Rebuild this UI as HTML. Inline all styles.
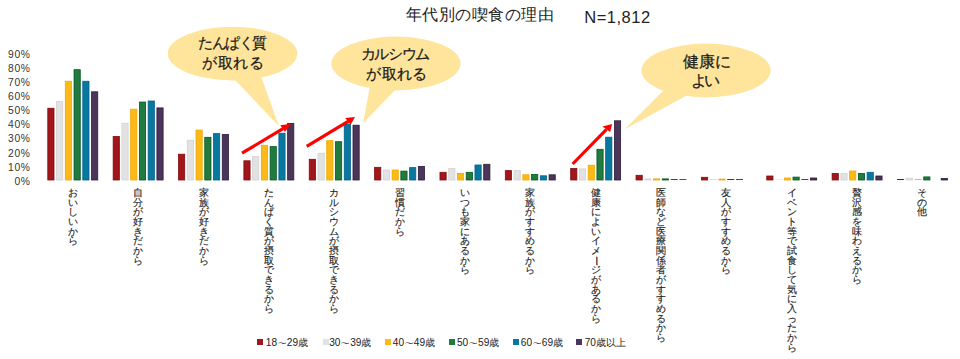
<!DOCTYPE html>
<html lang="ja"><head><meta charset="utf-8"><style>
html,body{margin:0;padding:0;background:#fff;}
body{width:960px;height:359px;position:relative;overflow:hidden;font-family:"Liberation Sans",sans-serif;color:#222;}
.yl{position:absolute;right:929.3px;font-size:10.3px;letter-spacing:0.7px;line-height:12px;color:#333;white-space:nowrap;}
.cat{position:absolute;top:188px;width:12px;text-align:center;font-size:9.6px;line-height:9.65px;color:#1e1e1e;-webkit-text-stroke:0.15px #1e1e1e;white-space:nowrap;}
.rot{display:inline-block;transform:rotate(90deg);}
.lsq{position:absolute;top:339px;width:6px;height:6px;}
.wv{display:inline-block;line-height:0;transform:scaleX(1.3);margin:0 0.9px;}
.ltx{position:absolute;top:337.4px;font-size:10.1px;line-height:12px;color:#222;white-space:nowrap;}
svg{position:absolute;left:0;top:0;}
.tx{position:absolute;z-index:2;line-height:40px;white-space:nowrap;color:#222;}
.co{color:#1a1a1a;-webkit-text-stroke:0.25px #1a1a1a;}
</style></head><body>
<div class="tx" style="left:405.5px;top:-5.72px;font-size:16.3px;letter-spacing:0.5px">年代別の喫食の理由</div><div class="tx" style="left:584.2px;top:-2.88px;font-size:16.5px;letter-spacing:0.53px">N=1,812</div><div class="tx co" style="left:198.0px;top:23.05px;font-size:15px;letter-spacing:-1.47px">たんぱく質</div><div class="tx co" style="left:202.3px;top:42.95px;font-size:15px;letter-spacing:0.43px">が取れる</div><div class="tx co" style="left:360.9px;top:33.55px;font-size:15px;letter-spacing:-1.45px">カルシウム</div><div class="tx co" style="left:366.2px;top:54.05px;font-size:15px;letter-spacing:0.43px">が取れる</div><div class="tx co" style="left:682.8px;top:41.5px;font-size:15.5px;letter-spacing:0.15px">健康に</div><div class="tx co" style="left:690.8px;top:60.75px;font-size:15.5px;letter-spacing:-2.3px">よい</div>
<div class="yl" style="top:175.70px">0%</div><div class="yl" style="top:161.61px">10%</div><div class="yl" style="top:147.52px">20%</div><div class="yl" style="top:133.43px">30%</div><div class="yl" style="top:119.34px">40%</div><div class="yl" style="top:105.25px">50%</div><div class="yl" style="top:91.16px">60%</div><div class="yl" style="top:77.07px">70%</div><div class="yl" style="top:62.98px">80%</div><div class="yl" style="top:48.89px">90%</div>
<svg width="960" height="359" viewBox="0 0 960 359">
<rect x="47.80" y="108.25" width="6.20" height="71.75" fill="#A0161A" stroke="#850A0E" stroke-width="0.8"/><rect x="56.55" y="101.60" width="6.20" height="78.40" fill="#E2E2E2" stroke="#D2D2D2" stroke-width="0.8"/><rect x="65.30" y="81.25" width="6.20" height="98.75" fill="#FDB918" stroke="#F0A800" stroke-width="0.8"/><rect x="74.05" y="69.70" width="6.20" height="110.30" fill="#217A3F" stroke="#005A1E" stroke-width="0.8"/><rect x="82.80" y="81.25" width="6.20" height="98.75" fill="#0878A0" stroke="#00608A" stroke-width="0.8"/><rect x="91.55" y="91.80" width="6.20" height="88.20" fill="#4B3558" stroke="#2E1B3C" stroke-width="0.8"/><rect x="113.16" y="136.50" width="6.20" height="43.50" fill="#A0161A" stroke="#850A0E" stroke-width="0.8"/><rect x="121.91" y="123.20" width="6.20" height="56.80" fill="#E2E2E2" stroke="#D2D2D2" stroke-width="0.8"/><rect x="130.66" y="109.20" width="6.20" height="70.80" fill="#FDB918" stroke="#F0A800" stroke-width="0.8"/><rect x="139.41" y="102.05" width="6.20" height="77.95" fill="#217A3F" stroke="#005A1E" stroke-width="0.8"/><rect x="148.16" y="101.00" width="6.20" height="79.00" fill="#0878A0" stroke="#00608A" stroke-width="0.8"/><rect x="156.91" y="107.90" width="6.20" height="72.10" fill="#4B3558" stroke="#2E1B3C" stroke-width="0.8"/><rect x="178.52" y="154.20" width="6.20" height="25.80" fill="#A0161A" stroke="#850A0E" stroke-width="0.8"/><rect x="187.27" y="140.20" width="6.20" height="39.80" fill="#E2E2E2" stroke="#D2D2D2" stroke-width="0.8"/><rect x="196.02" y="130.10" width="6.20" height="49.90" fill="#FDB918" stroke="#F0A800" stroke-width="0.8"/><rect x="204.77" y="137.30" width="6.20" height="42.70" fill="#217A3F" stroke="#005A1E" stroke-width="0.8"/><rect x="213.52" y="133.60" width="6.20" height="46.40" fill="#0878A0" stroke="#00608A" stroke-width="0.8"/><rect x="222.27" y="134.40" width="6.20" height="45.60" fill="#4B3558" stroke="#2E1B3C" stroke-width="0.8"/><rect x="243.88" y="160.80" width="6.20" height="19.20" fill="#A0161A" stroke="#850A0E" stroke-width="0.8"/><rect x="252.63" y="156.40" width="6.20" height="23.60" fill="#E2E2E2" stroke="#D2D2D2" stroke-width="0.8"/><rect x="261.38" y="145.30" width="6.20" height="34.70" fill="#FDB918" stroke="#F0A800" stroke-width="0.8"/><rect x="270.13" y="146.60" width="6.20" height="33.40" fill="#217A3F" stroke="#005A1E" stroke-width="0.8"/><rect x="278.88" y="133.20" width="6.20" height="46.80" fill="#0878A0" stroke="#00608A" stroke-width="0.8"/><rect x="287.63" y="123.40" width="6.20" height="56.60" fill="#4B3558" stroke="#2E1B3C" stroke-width="0.8"/><rect x="309.24" y="159.30" width="6.20" height="20.70" fill="#A0161A" stroke="#850A0E" stroke-width="0.8"/><rect x="317.99" y="153.20" width="6.20" height="26.80" fill="#E2E2E2" stroke="#D2D2D2" stroke-width="0.8"/><rect x="326.74" y="140.70" width="6.20" height="39.30" fill="#FDB918" stroke="#F0A800" stroke-width="0.8"/><rect x="335.49" y="141.70" width="6.20" height="38.30" fill="#217A3F" stroke="#005A1E" stroke-width="0.8"/><rect x="344.24" y="124.00" width="6.20" height="56.00" fill="#0878A0" stroke="#00608A" stroke-width="0.8"/><rect x="352.99" y="125.20" width="6.20" height="54.80" fill="#4B3558" stroke="#2E1B3C" stroke-width="0.8"/><rect x="374.60" y="167.30" width="6.20" height="12.70" fill="#A0161A" stroke="#850A0E" stroke-width="0.8"/><rect x="383.35" y="170.00" width="6.20" height="10.00" fill="#E2E2E2" stroke="#D2D2D2" stroke-width="0.8"/><rect x="392.10" y="170.00" width="6.20" height="10.00" fill="#FDB918" stroke="#F0A800" stroke-width="0.8"/><rect x="400.85" y="171.10" width="6.20" height="8.90" fill="#217A3F" stroke="#005A1E" stroke-width="0.8"/><rect x="409.60" y="167.60" width="6.20" height="12.40" fill="#0878A0" stroke="#00608A" stroke-width="0.8"/><rect x="418.35" y="166.50" width="6.20" height="13.50" fill="#4B3558" stroke="#2E1B3C" stroke-width="0.8"/><rect x="439.96" y="172.30" width="6.20" height="7.70" fill="#A0161A" stroke="#850A0E" stroke-width="0.8"/><rect x="448.71" y="168.40" width="6.20" height="11.60" fill="#E2E2E2" stroke="#D2D2D2" stroke-width="0.8"/><rect x="457.46" y="173.40" width="6.20" height="6.60" fill="#FDB918" stroke="#F0A800" stroke-width="0.8"/><rect x="466.21" y="172.30" width="6.20" height="7.70" fill="#217A3F" stroke="#005A1E" stroke-width="0.8"/><rect x="474.96" y="165.00" width="6.20" height="15.00" fill="#0878A0" stroke="#00608A" stroke-width="0.8"/><rect x="483.71" y="164.30" width="6.20" height="15.70" fill="#4B3558" stroke="#2E1B3C" stroke-width="0.8"/><rect x="505.32" y="170.60" width="6.20" height="9.40" fill="#A0161A" stroke="#850A0E" stroke-width="0.8"/><rect x="514.07" y="170.60" width="6.20" height="9.40" fill="#E2E2E2" stroke="#D2D2D2" stroke-width="0.8"/><rect x="522.82" y="174.80" width="6.20" height="5.20" fill="#FDB918" stroke="#F0A800" stroke-width="0.8"/><rect x="531.57" y="174.40" width="6.20" height="5.60" fill="#217A3F" stroke="#005A1E" stroke-width="0.8"/><rect x="540.32" y="175.80" width="6.20" height="4.20" fill="#0878A0" stroke="#00608A" stroke-width="0.8"/><rect x="549.07" y="174.80" width="6.20" height="5.20" fill="#4B3558" stroke="#2E1B3C" stroke-width="0.8"/><rect x="570.68" y="168.50" width="6.20" height="11.50" fill="#A0161A" stroke="#850A0E" stroke-width="0.8"/><rect x="579.43" y="168.90" width="6.20" height="11.10" fill="#E2E2E2" stroke="#D2D2D2" stroke-width="0.8"/><rect x="588.18" y="165.20" width="6.20" height="14.80" fill="#FDB918" stroke="#F0A800" stroke-width="0.8"/><rect x="596.93" y="149.30" width="6.20" height="30.70" fill="#217A3F" stroke="#005A1E" stroke-width="0.8"/><rect x="605.68" y="137.20" width="6.20" height="42.80" fill="#0878A0" stroke="#00608A" stroke-width="0.8"/><rect x="614.43" y="120.80" width="6.20" height="59.20" fill="#4B3558" stroke="#2E1B3C" stroke-width="0.8"/><rect x="636.04" y="175.30" width="6.20" height="4.70" fill="#A0161A" stroke="#850A0E" stroke-width="0.8"/><rect x="644.79" y="178.90" width="6.20" height="1.10" fill="#E2E2E2" stroke="#D2D2D2" stroke-width="0.8"/><rect x="653.54" y="178.90" width="6.20" height="1.10" fill="#FDB918" stroke="#F0A800" stroke-width="0.8"/><rect x="662.29" y="178.90" width="6.20" height="1.10" fill="#217A3F" stroke="#005A1E" stroke-width="0.8"/><rect x="670.64" y="179.00" width="7.0" height="1.00" fill="#00608A"/><rect x="679.39" y="179.20" width="7.0" height="0.80" fill="#2E1B3C"/><rect x="701.40" y="177.30" width="6.20" height="2.70" fill="#A0161A" stroke="#850A0E" stroke-width="0.8"/><rect x="709.75" y="179.30" width="7.0" height="0.70" fill="#D2D2D2"/><rect x="718.90" y="179.10" width="6.20" height="0.90" fill="#FDB918" stroke="#F0A800" stroke-width="0.8"/><rect x="727.25" y="179.00" width="7.0" height="1.00" fill="#005A1E"/><rect x="736.00" y="179.00" width="7.0" height="1.00" fill="#00608A"/><rect x="766.76" y="176.00" width="6.20" height="4.00" fill="#A0161A" stroke="#850A0E" stroke-width="0.8"/><rect x="775.11" y="179.60" width="7.0" height="0.40" fill="#D2D2D2"/><rect x="784.26" y="178.00" width="6.20" height="2.00" fill="#FDB918" stroke="#F0A800" stroke-width="0.8"/><rect x="793.01" y="177.10" width="6.20" height="2.90" fill="#217A3F" stroke="#005A1E" stroke-width="0.8"/><rect x="801.36" y="179.00" width="7.0" height="1.00" fill="#00608A"/><rect x="810.51" y="178.00" width="6.20" height="2.00" fill="#4B3558" stroke="#2E1B3C" stroke-width="0.8"/><rect x="832.12" y="173.40" width="6.20" height="6.60" fill="#A0161A" stroke="#850A0E" stroke-width="0.8"/><rect x="840.87" y="173.40" width="6.20" height="6.60" fill="#E2E2E2" stroke="#D2D2D2" stroke-width="0.8"/><rect x="849.62" y="171.00" width="6.20" height="9.00" fill="#FDB918" stroke="#F0A800" stroke-width="0.8"/><rect x="858.37" y="173.40" width="6.20" height="6.60" fill="#217A3F" stroke="#005A1E" stroke-width="0.8"/><rect x="867.12" y="172.30" width="6.20" height="7.70" fill="#0878A0" stroke="#00608A" stroke-width="0.8"/><rect x="875.87" y="176.00" width="6.20" height="4.00" fill="#4B3558" stroke="#2E1B3C" stroke-width="0.8"/><rect x="897.08" y="179.00" width="7.0" height="1.00" fill="#850A0E"/><rect x="906.23" y="178.20" width="6.20" height="1.80" fill="#E2E2E2" stroke="#D2D2D2" stroke-width="0.8"/><rect x="914.58" y="179.20" width="7.0" height="0.80" fill="#F0A800"/><rect x="923.73" y="176.90" width="6.20" height="3.10" fill="#217A3F" stroke="#005A1E" stroke-width="0.8"/><rect x="941.23" y="178.40" width="6.20" height="1.60" fill="#4B3558" stroke="#2E1B3C" stroke-width="0.8"/>
<g fill="#FFE49C">
<ellipse cx="232.5" cy="53.6" rx="64.8" ry="26.8"/>
<polygon points="225.6,70 258.8,70 279,126.3"/>
<ellipse cx="396" cy="63.5" rx="64.6" ry="26.9"/>
<polygon points="372,75 409.4,75 363.1,123.3"/>
<ellipse cx="706" cy="70.5" rx="64.65" ry="26.9"/>
<polygon points="670,84 700,88.2 624.7,129.3"/>
</g>
<g stroke="#FF0000" stroke-width="3.2" fill="#FF0000">
<line x1="242" y1="153.2" x2="283" y2="128.6"/>
<polygon points="290.9,123.7 280.3,125.3 285,132" stroke="none"/>
<line x1="306.7" y1="146.3" x2="348.5" y2="121.2"/>
<polygon points="355,117 345.2,118 350.8,124.4" stroke="none"/>
<line x1="572.65" y1="164" x2="606.5" y2="129.3"/>
<polygon points="612.1,123.9 602.5,126.5 610.2,132.1" stroke="none"/>
</g>
</svg>

<div class="cat" style="left:66.78px">お<br>い<br>し<br>い<br>か<br>ら</div><div class="cat" style="left:132.13px">自<br>分<br>が<br>好<br>き<br>だ<br>か<br>ら</div><div class="cat" style="left:197.50px">家<br>族<br>が<br>好<br>き<br>だ<br>か<br>ら</div><div class="cat" style="left:262.86px">た<br>ん<br>ぱ<br>く<br>質<br>が<br>摂<br>取<br>で<br>き<br>る<br>か<br>ら</div><div class="cat" style="left:328.21px">カ<br>ル<br>シ<br>ウ<br>ム<br>が<br>摂<br>取<br>で<br>き<br>る<br>か<br>ら</div><div class="cat" style="left:393.57px">習<br>慣<br>だ<br>か<br>ら</div><div class="cat" style="left:458.93px">い<br>つ<br>も<br>家<br>に<br>あ<br>る<br>か<br>ら</div><div class="cat" style="left:524.29px">家<br>族<br>が<br>す<br>す<br>め<br>る<br>か<br>ら</div><div class="cat" style="left:589.65px">健<br>康<br>に<br>よ<br>い<br>イ<br>メ<br><span class="rot">ー</span><br>ジ<br>が<br>あ<br>る<br>か<br>ら</div><div class="cat" style="left:655.01px">医<br>師<br>な<br>ど<br>医<br>療<br>関<br>係<br>者<br>が<br>す<br>す<br>め<br>る<br>か<br>ら</div><div class="cat" style="left:720.38px">友<br>人<br>が<br>す<br>す<br>め<br>る<br>か<br>ら</div><div class="cat" style="left:785.74px">イ<br>ベ<br>ン<br>ト<br>等<br>で<br>試<br>食<br>し<br>て<br>気<br>に<br>入<br>っ<br>た<br>か<br>ら</div><div class="cat" style="left:851.09px">贅<br>沢<br>感<br>を<br>味<br>わ<br>え<br>る<br>か<br>ら</div><div class="cat" style="left:916.45px">そ<br>の<br>他</div>
<div class="lsq" style="left:257px;background:#A0161A"></div><div class="ltx" style="left:265.8px">18<span class="wv">∼</span>29歳</div><div class="lsq" style="left:322.8px;background:#E2E2E2"></div><div class="ltx" style="left:329.2px">30<span class="wv">∼</span>39歳</div><div class="lsq" style="left:384.5px;background:#FDB918"></div><div class="ltx" style="left:392.8px">40<span class="wv">∼</span>49歳</div><div class="lsq" style="left:448.7px;background:#217A3F"></div><div class="ltx" style="left:457px">50<span class="wv">∼</span>59歳</div><div class="lsq" style="left:512.5px;background:#0878A0"></div><div class="ltx" style="left:520.8px">60<span class="wv">∼</span>69歳</div><div class="lsq" style="left:576.2px;background:#4B3558"></div><div class="ltx" style="left:584.7px">70歳以上</div>
</body></html>
